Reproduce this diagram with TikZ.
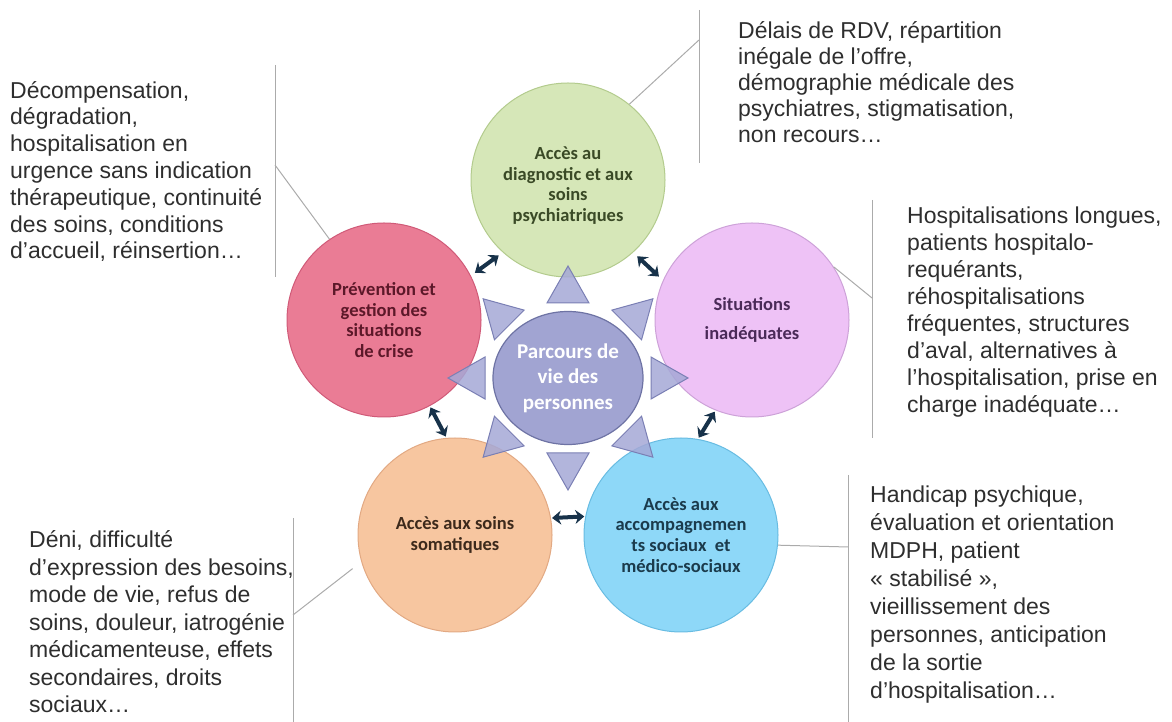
\documentclass[tikz,border=0pt]{standalone}
\usepackage{fontspec}
\setmainfont{Liberation Sans}
\newfontfamily\calibri{Carlito}
\usepackage{tikz}
\usetikzlibrary{shapes.geometric,arrows.meta,calc}
\definecolor{diagfill}{HTML}{D6E7B8}
\definecolor{diagline}{HTML}{B3CB8D}
\definecolor{diagtext}{HTML}{3A4A26}
\definecolor{crisefill}{HTML}{EA7C95}
\definecolor{criseline}{HTML}{D05A78}
\definecolor{crisetext}{HTML}{5C1829}
\definecolor{inadeqfill}{HTML}{EEC2F6}
\definecolor{inadeqline}{HTML}{CDA2D8}
\definecolor{inadeqtext}{HTML}{4A2A58}
\definecolor{somafill}{HTML}{F7C6A0}
\definecolor{somaline}{HTML}{E2A983}
\definecolor{somatext}{HTML}{3D2A1C}
\definecolor{socialfill}{HTML}{8ED8F8}
\definecolor{socialline}{HTML}{68BCE2}
\definecolor{socialtext}{HTML}{1B3B4C}
\definecolor{hubfill}{HTML}{A1A4D2}
\definecolor{hubline}{HTML}{6E73A4}
\definecolor{rayfill}{HTML}{A5A8D6}
\definecolor{rayline}{HTML}{7A7FB4}
\definecolor{linkc}{HTML}{17324A}
\definecolor{leadc}{HTML}{ABABAB}
\definecolor{notec}{HTML}{2E2E2E}

\begin{document}
\begin{tikzpicture}[x=1pt,y=1pt,
    bubble/.style n args={3}{circle,minimum size=194pt,inner sep=0pt,align=center,fill=#1,draw=#2,line width=1pt,text=#3,font=\calibri\bfseries\fontsize{18.5}{20.7}\selectfont},
    core/.style={ellipse,minimum width=150pt,minimum height=133pt,inner sep=0pt,align=center,fill=hubfill,draw=hubline,line width=1.2pt,text=white,font=\calibri\bfseries\fontsize{21}{25.5}\selectfont},
    ray/.style={fill=rayfill,draw=rayline,line width=1pt,fill opacity=0.85},
    link/.style={draw=linkc,line width=4pt,{Stealth[length=9pt,width=14pt]}-{Stealth[length=9pt,width=14pt]}},
    lead/.style={draw=leadc,line width=1pt},
    note/.style={anchor=base west,align=left,inner sep=0pt,text=notec,font=\fontsize{23}{27}\selectfont}
  ]
    \useasboundingbox (0,0) rectangle (1172,722);

    % the five fields around the person
    \node[bubble={diagfill}{diagline}{diagtext}] (diag) at (568,542) {\rule{0pt}{24pt}Accès au\\diagnostic et aux\\soins\\psychiatriques};
    \node[bubble={crisefill}{criseline}{crisetext}] (crise) at (384,402) {Prévention et\\gestion des\\situations\\de crise};
    \node[bubble={inadeqfill}{inadeqline}{inadeqtext}] (inadeq) at (752,402) {Situations\\[8pt]inadéquates};
    \node[bubble={somafill}{somaline}{somatext}] (soma) at (455,187) {Accès aux soins\\somatiques};
    \node[bubble={socialfill}{socialline}{socialtext}] (social) at (681,187) {Accès aux\\accompagnemen\\ts sociaux\ \ et\\médico-sociaux};
    \node[core] (parcours) at (568,344) {Parcours de\\vie des\\personnes};

    % rays
    \foreach \a in {0,45,...,315}
      \draw[ray] ($(parcours.center)+({83*cos(\a)},{75*sin(\a)})+(\a:37)$)
        -- ($(parcours.center)+({83*cos(\a)},{75*sin(\a)})+(\a+90:21)$)
        -- ($(parcours.center)+({83*cos(\a)},{75*sin(\a)})+(\a-90:21)$) -- cycle;

    \draw[link,shorten <=5pt,shorten >=5pt] (crise.27) -- (diag.228);
    \draw[link,shorten <=5.5pt,shorten >=5.5pt] (diag.312) -- (inadeq.156);
    \draw[link,shorten <=1.5pt,shorten >=1.5pt] (crise.298) -- (soma.95);
    \draw[link,shorten <=1.5pt,shorten >=1.5pt] (inadeq.248) -- (social.80);
    \draw[link,shorten <=1pt,shorten >=1pt] (soma.10) -- (social.169);

    % leader lines to the notes
    \coordinate (tlTop) at (275,657);
    \coordinate (tlBot) at (275,445);
    \coordinate (tlHook) at (275,557);
    \coordinate (trTop) at (699,712);
    \coordinate (trBot) at (699,559);
    \coordinate (trHook) at (699,682);
    \coordinate (rTop) at (872,522);
    \coordinate (rBot) at (872,284);
    \coordinate (rHook) at (872,424);
    \coordinate (brTop) at (848,247);
    \coordinate (brBot) at (848,0);
    \coordinate (brHook) at (848,175);
    \coordinate (blTop) at (293,204);
    \coordinate (blBot) at (293,0);
    \coordinate (blHook) at (293,107);
    \draw[lead] (tlTop) -- (tlBot);
    \draw[lead] (crise.124) -- (tlHook);
    \draw[lead] (trTop) -- (trBot);
    \draw[lead] (diag.51) -- (trHook);
    \draw[lead] (rTop) -- (rBot);
    \draw[lead] (inadeq.33) -- (rHook);
    \draw[lead] (brTop) -- (brBot);
    \draw[lead] (social.-6) -- (brHook);
    \draw[lead] (blTop) -- (blBot);
    \draw[lead,shorten >=11pt] (blHook) -- (soma.196);

    % notes (placed by the baseline of their last line)
    \node[note,font=\fontsize{23}{26.8}\selectfont] (tlNote) at (10,463) {Décompensation,\\dégradation,\\hospitalisation en\\urgence sans indication\\thérapeutique, continuité\\des soins, conditions\\d'accueil, réinsertion…};
    \node[note,font=\fontsize{23}{26}\selectfont] (trNote) at (738,579) {Délais de RDV, répartition\\inégale de l'offre,\\démographie médicale des\\psychiatres, stigmatisation,\\non recours…};
    \node[note] (rNote) at (907,309) {Hospitalisations longues,\\patients hospitalo-\\requérants,\\réhospitalisations\\fréquentes, structures\\d'aval, alternatives à\\l'hospitalisation, prise en\\charge inadéquate…};
    \node[note,font=\fontsize{23}{28}\selectfont] (brNote) at (870,23) {Handicap psychique,\\évaluation et orientation\\MDPH, patient\\« stabilisé »,\\vieillissement des\\personnes, anticipation\\de la sortie\\d'hospitalisation…};
    \node[note,font=\fontsize{23}{27.5}\selectfont] (blNote) at (29,9) {Déni, difficulté\\d'expression des besoins,\\mode de vie, refus de\\soins, douleur, iatrogénie\\médicamenteuse, effets\\secondaires, droits\\sociaux…};
\end{tikzpicture}
\end{document}
